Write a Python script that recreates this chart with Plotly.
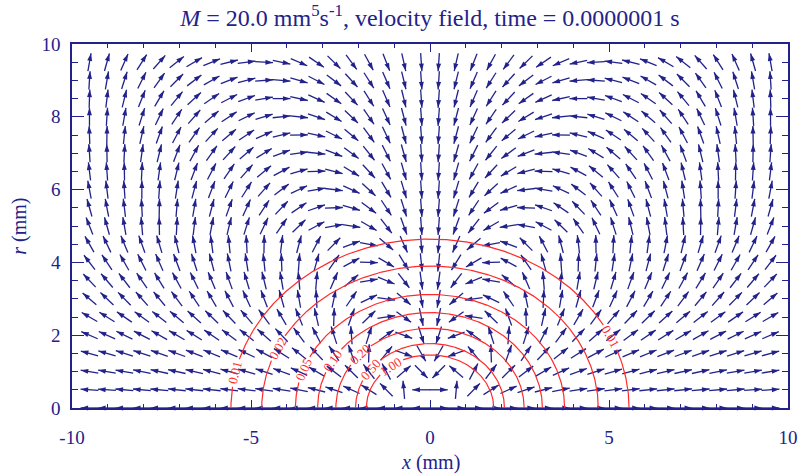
import numpy as np
import plotly.graph_objects as go

NAVY = "#22228a"
RED = "#ff2b2b"
FONT = "Times New Roman, Liberation Serif, DejaVu Serif, serif"

# ---------------------------------------------------------------------------
# Velocity-field grid.  The field is mirror-symmetric about x = 0, so the
# directions are tabulated for the x < 0 half only (the x > 0 half is the
# reflection: angle -> 180 - angle).
# ---------------------------------------------------------------------------
x_left = [-9.512, -9.024, -8.537, -8.049, -7.561, -7.073, -6.585, -6.098, -5.610, -5.122,
          -4.634, -4.146, -3.659, -3.171, -2.683, -2.195, -1.707, -1.220, -0.732, -0.244]
r_rows = [0.0, 0.5, 1.0, 1.5, 2.0, 2.5, 3.0, 3.5, 4.0, 4.5,
          5.0, 5.5, 6.0, 6.5, 7.0, 7.5, 8.0, 8.5, 9.0, 9.5]

# flow direction in degrees (counter-clockwise from +x), one row per r value
angle_left = [
    [180, 180, 180, 180, 180, 180, 180, 180, 180, 180, 180, 180, 180, 180, 180, 180, 180, 180, 180, 180],
    [176, 176, 175, 175, 175, 174, 174, 174, 173, 173, 172, 171, 169, 166, 162, 156, 148, 135, 95, 180],
    [171, 170, 170, 169, 168, 168, 167, 166, 165, 164, 162, 160, 156, 150, 143, 136, 128, 118, 40, -45],
    [165, 164, 163, 162, 161, 160, 159, 158, 157, 155, 152, 148, 142, 134, 124, 110, 88, 50, -20, -60],
    [157, 156, 154, 153, 151, 150, 148, 146, 144, 142, 139, 134, 127, 118, 108, 94, 72, 35, -20, -72],
    [150, 148, 146, 144, 142, 140, 138, 136, 134, 131, 127, 121, 113, 103, 88, 70, 44, 8, -35, -78],
    [140, 137, 135, 132, 130, 127, 124, 121, 118, 115, 111, 106, 100, 93, 78, 55, 25, -8, -40, -80],
    [134, 131, 128, 125, 122, 119, 116, 113, 110, 107, 104, 100, 95, 85, 66, 40, 10, -22, -52, -82],
    [128, 124, 120, 117, 114, 111, 108, 105, 102, 99, 96, 92, 86, 74, 55, 28, -2, -30, -58, -84],
    [120, 116, 113, 110, 107, 104, 101, 98, 96, 93, 89, 83, 75, 62, 45, 20, -10, -40, -66, -85],
    [112, 106, 100, 95, 91, 87, 83, 79, 76, 72, 64, 55, 44, 28, 10, -8, -30, -52, -70, -86],
    [106, 101, 97, 93, 89, 85, 80, 75, 70, 65, 56, 46, 34, 19, 2, -16, -36, -56, -72, -86],
    [101, 97, 94, 90, 86, 81, 75, 69, 63, 57, 48, 37, 25, 10, -7, -24, -42, -59, -73, -86],
    [97, 94, 91, 87, 82, 76, 69, 62, 55, 48, 39, 28, 16, 2, -14, -31, -47, -61, -74, -86],
    [94, 91, 87, 82, 76, 69, 61, 54, 47, 40, 31, 20, 8, -6, -21, -36, -51, -63, -74, -86],
    [92, 89, 84, 77, 70, 62, 54, 47, 40, 33, 24, 13, 1, -12, -26, -40, -53, -64, -75, -86],
    [90, 86, 80, 72, 64, 56, 48, 40, 33, 26, 17, 6, -6, -18, -31, -43, -55, -65, -75, -86],
    [88, 83, 76, 68, 59, 50, 42, 34, 27, 20, 10, 0, -12, -24, -35, -46, -57, -66, -76, -86],
    [86, 80, 72, 63, 54, 45, 37, 29, 21, 14, 4, -5, -16, -27, -37, -47, -57, -66, -76, -86],
    [80, 74, 66, 57, 48, 38, 30, 22, 14, 7, -3, -12, -23, -34, -44, -53, -61, -68, -77, -86],
]

# Concentration contours: half-axes of each level curve along x and along r
levels = [0.01, 0.02, 0.05, 0.10, 0.20, 0.50, 1.00]
level_text = ["0.01", "0.02", "0.05", "0.10", "0.20", "0.50", "1.00"]
semi_x = [5.56, 4.70, 3.76, 3.14, 2.63, 2.08, 1.78]
semi_r = [4.64, 3.90, 3.12, 2.62, 2.19, 1.77, 1.46]

x_tickvals = [-10, -5, 0, 5, 10]
x_ticktext = ["-10", "-5", "0", "5", "10"]
r_tickvals = [0, 2, 4, 6, 8, 10]
r_ticktext = ["0", "2", "4", "6", "8", "10"]

# where the level labels sit on each curve (parametric angle, degrees)
label_params = [[168, 25], [155], [160], [150], [138], [143], [128]]
LABEL_GAP = 0.38      # half-length of the line break under a label (data units)
ARROW_LEN = 0.5       # drawn arrow length (data units)

# ---------------------------------------------------------------------------
# Arrows: shafts as one segmented line trace, heads as rotated markers
# ---------------------------------------------------------------------------
seg_x, seg_y, tip_x, tip_y, tip_rot = [], [], [], [], []
for r, row in zip(r_rows, angle_left):
    for x, ang in zip(x_left, row):
        for xc, a in ((x, ang), (-x, 180 - ang)):
            c, s = np.cos(np.radians(a)), np.sin(np.radians(a))
            hx, hy = xc + 0.5 * ARROW_LEN * c, r + 0.5 * ARROW_LEN * s
            seg_x += [xc - 0.5 * ARROW_LEN * c, hx, None]
            seg_y += [r - 0.5 * ARROW_LEN * s, hy, None]
            tip_x.append(hx)
            tip_y.append(hy)
            tip_rot.append(90 - a)

fig = go.Figure()
fig.add_trace(go.Scatter(x=seg_x, y=seg_y, mode="lines",
                         line=dict(color=NAVY, width=1.3),
                         hoverinfo="skip", showlegend=False))
fig.add_trace(go.Scatter(x=tip_x, y=tip_y, mode="markers",
                         marker=dict(symbol="arrow", size=8, angle=tip_rot,
                                     color=NAVY, line=dict(width=0)),
                         cliponaxis=False, hoverinfo="skip", showlegend=False))

# ---------------------------------------------------------------------------
# Contour curves with breaks for their labels
# ---------------------------------------------------------------------------
t = np.radians(np.linspace(0, 180, 721))
annotations = []
for txt, a, b, params in zip(level_text, semi_x, semi_r, label_params):
    ex, ey = a * np.cos(t), b * np.sin(t)
    keep = np.ones_like(t, dtype=bool)
    for p in params:
        tp = np.radians(p)
        lx, ly = a * np.cos(tp), b * np.sin(tp)
        keep &= np.hypot(ex - lx, ey - ly) > LABEL_GAP
        dx, dy = -a * np.sin(tp), b * np.cos(tp)
        if dx < 0:
            dx, dy = -dx, -dy
        annotations.append(dict(x=lx, y=ly, xref="x", yref="y", text=txt,
                                showarrow=False, textangle=-np.degrees(np.arctan2(dy, dx)),
                                xanchor="center", yanchor="middle",
                                font=dict(family=FONT, size=13, color=RED)))
    cx = [float(v) if k else None for v, k in zip(ex, keep)]
    cy = [float(v) if k else None for v, k in zip(ey, keep)]
    fig.add_trace(go.Scatter(x=cx, y=cy, mode="lines", line=dict(color=RED, width=1.2),
                             connectgaps=False, hoverinfo="skip", showlegend=False))

# axis titles
annotations.append(dict(x=0.5, y=-0.151, xref="paper", yref="paper",
                        xanchor="center", yanchor="middle",
                        text="<i>x</i> (mm)", showarrow=False,
                        font=dict(family=FONT, size=20, color=NAVY)))
annotations.append(dict(x=-0.0744, y=0.5, xref="paper", yref="paper",
                        xanchor="center", yanchor="middle",
                        text="<i>r</i> (mm)", showarrow=False, textangle=-90,
                        font=dict(family=FONT, size=20, color=NAVY)))

axis_common = dict(showline=True, linecolor=NAVY, linewidth=1.5, mirror="ticks",
                   ticks="inside", tickcolor=NAVY, tickwidth=1.2,
                   showgrid=False, zeroline=False,
                   tickfont=dict(family=FONT, size=19, color=NAVY))

fig.update_layout(
    width=809, height=474,
    margin=dict(l=72, r=11, t=44, b=66),
    paper_bgcolor="white", plot_bgcolor="white",
    showlegend=False,
    font=dict(family=FONT, color=NAVY),
    title=dict(text="<i>M</i> = 20.0 mm<sup>5</sup>s<sup>-1</sup>, velocity field, time = 0.0000001 s",
               x=0.5, xref="paper", xanchor="center",
               y=0.962, yref="container", yanchor="middle",
               font=dict(family=FONT, size=24, color=NAVY)),
    xaxis=dict(range=[-10, 10], tickmode="array", tickvals=x_tickvals, ticktext=x_ticktext,
               ticklen=8, ticklabelstandoff=11,
               minor=dict(ticks="inside", tickmode="linear", tick0=0, dtick=1,
                          ticklen=4, tickcolor=NAVY, tickwidth=1, showgrid=False),
               **axis_common),
    yaxis=dict(range=[0, 10], tickmode="array", tickvals=r_tickvals, ticktext=r_ticktext,
               ticklen=12, ticklabelstandoff=6,
               minor=dict(ticks="inside", tickmode="linear", tick0=0, dtick=0.5,
                          ticklen=6, tickcolor=NAVY, tickwidth=1, showgrid=False),
               **axis_common),
    annotations=annotations,
)

fig.write_html("out.html")
